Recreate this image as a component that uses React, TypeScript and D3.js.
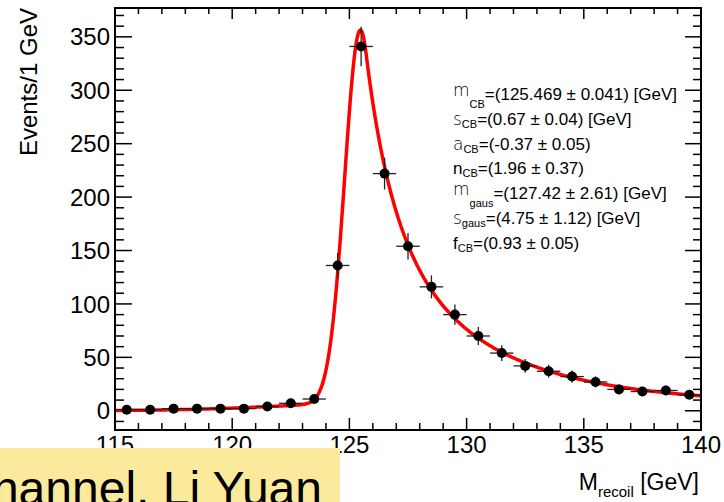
import React from "react";
import * as d3 from "d3";

// Recoil-mass histogram: 1 GeV bins, event counts
const binCenters = [
  115.5, 116.5, 117.5, 118.5, 119.5, 120.5, 121.5, 122.5, 123.5, 124.5, 125.5, 126.5, 127.5,
  128.5, 129.5, 130.5, 131.5, 132.5, 133.5, 134.5, 135.5, 136.5, 137.5, 138.5, 139.5,
];
const binCounts = [
  1, 1, 2, 2, 2, 2, 4, 7, 11, 136, 341, 222, 154, 116, 90, 70, 54, 42, 37, 32, 27, 20, 18, 19, 15,
];
const binWidth = 1;

const xTickValues = [115, 120, 125, 130, 135, 140];
const yTickValues = [0, 50, 100, 150, 200, 250, 300, 350];

// Fit result: Crystal Ball + Gaussian
const cbMean = 125.469;
const cbSigma = 0.67;
const cbAlpha = -0.37;
const cbN = 1.96;
const gausMean = 127.42;
const gausSigma = 4.75;
const cbFrac = 0.93;

const paramLines = [
  { sym: "m", light: true, sub: "CB", rest: "=(125.469 ± 0.041) [GeV]", symDy: -4, subDy: 8 },
  { sym: "s", light: true, sub: "CB", rest: "=(0.67 ± 0.04) [GeV]", symDy: 0, subDy: 3 },
  { sym: "a", light: true, sub: "CB", rest: "=(-0.37 ± 0.05)", symDy: 0, subDy: 3 },
  { sym: "n", light: false, sub: "CB", rest: "=(1.96 ± 0.37)", symDy: 0, subDy: 3 },
  { sym: "m", light: true, sub: "gaus", rest: "=(127.42 ± 2.61) [GeV]", symDy: -4, subDy: 8 },
  { sym: "s", light: true, sub: "gaus", rest: "=(4.75 ± 1.12) [GeV]", symDy: 0, subDy: 3 },
  { sym: "f", light: false, sub: "CB", rest: "=(0.93 ± 0.05)", symDy: 0, subDy: 3 },
];

const W = 724;
const H = 502;
const L = 115;
const R = 701;
const T = 8;
const B = 430;
const FONT = "'Liberation Sans', Arial, Helvetica, sans-serif";

function crystalBall(x: number): number {
  let t = (x - cbMean) / cbSigma;
  if (cbAlpha < 0) t = -t;
  const a = Math.abs(cbAlpha);
  if (t >= -a) return Math.exp(-0.5 * t * t);
  const A = Math.pow(cbN / a, cbN) * Math.exp(-0.5 * a * a);
  const Bc = cbN / a - a;
  return A * Math.pow(Bc - t, -cbN);
}

function gauss(x: number): number {
  const u = (x - gausMean) / gausSigma;
  return Math.exp(-0.5 * u * u);
}

function integrate(f: (x: number) => number, lo: number, hi: number, n = 20000): number {
  const h = (hi - lo) / n;
  let s = 0.5 * (f(lo) + f(hi));
  for (let i = 1; i < n; i++) s += f(lo + i * h);
  return s * h;
}

export default function App() {
  const x = d3.scaleLinear().domain([115, 140]).range([L, R]);
  const y = d3.scaleLinear().domain([-18, 377]).range([B, T]);

  const total = d3.sum(binCounts);
  const cbInt = integrate(crystalBall, 115, 140);
  const gInt = integrate(gauss, 115, 140);
  const model = (m: number) =>
    total * binWidth * (cbFrac * crystalBall(m) / cbInt + (1 - cbFrac) * gauss(m) / gInt);

  const curveX = d3.range(115, 140.0001, 0.02);
  const linePath = d3
    .line<number>()
    .x((d) => x(d))
    .y((d) => y(model(d)))(curveX) as string;

  const xMinor = d3.range(115, 141, 1);
  const yMinor = d3.range(-10, 377, 10);

  const points = binCenters.map((c, i) => ({ c, v: binCounts[i], e: Math.sqrt(binCounts[i]) }));

  return (
    <svg
      width={W}
      height={H}
      style={{ position: "absolute", left: 0, top: 0, background: "#fff" }}
      fontFamily={FONT}
    >
      <defs>
        <clipPath id="plotArea">
          <rect x={L} y={T} width={R - L} height={B - T} />
        </clipPath>
      </defs>
      <rect x={0} y={0} width={W} height={H} fill="#fff" />

      {/* frame ticks */}
      <g stroke="#000" strokeWidth={1.5}>
        {yMinor.map((v) => {
          const major = v % 50 === 0;
          return (
            <g key={"y" + v}>
              <line x1={L} x2={L + (major ? 17 : 9)} y1={y(v)} y2={y(v)} />
              <line x1={R} x2={R - (major ? 16 : 8)} y1={y(v)} y2={y(v)} />
            </g>
          );
        })}
        {xMinor.map((v) => {
          const major = v % 5 === 0;
          return (
            <g key={"x" + v}>
              <line x1={x(v)} x2={x(v)} y1={B} y2={B - (major ? 12 : 7)} />
              <line x1={x(v)} x2={x(v)} y1={T} y2={T + (major ? 11 : 6)} />
            </g>
          );
        })}
      </g>

      {/* fitted model */}
      <path
        d={linePath}
        fill="none"
        stroke="#ff0000"
        strokeWidth={3.5}
        strokeLinejoin="round"
        clipPath="url(#plotArea)"
      />

      {/* data with Poisson errors */}
      <g>
        {points.map((p) => (
          <g key={p.c}>
            <line
              x1={x(p.c - binWidth / 2)}
              x2={x(p.c + binWidth / 2)}
              y1={y(p.v)}
              y2={y(p.v)}
              stroke="#222"
              strokeWidth={1.3}
            />
            <line
              x1={x(p.c)}
              x2={x(p.c)}
              y1={y(p.v - p.e)}
              y2={y(p.v + p.e)}
              stroke="#222"
              strokeWidth={1.3}
            />
            <circle cx={x(p.c)} cy={y(p.v)} r={5} fill="#000" />
          </g>
        ))}
      </g>

      <rect x={L} y={T} width={R - L} height={B - T} fill="none" stroke="#000" strokeWidth={2} />

      {/* tick labels */}
      <g fontSize={24} fill="#000">
        {yTickValues.map((v) => (
          <text key={v} x={110} y={y(v) + 8.6} textAnchor="end">
            {v}
          </text>
        ))}
        {xTickValues.map((v) => (
          <text key={v} x={x(v)} y={452.5} textAnchor="middle">
            {v}
          </text>
        ))}
      </g>

      {/* axis titles */}
      <text
        transform="translate(37.3,8) rotate(-90)"
        textAnchor="end"
        fontSize={24}
        fill="#000"
      >
        Events/1 GeV
      </text>
      <text x={699} y={490} textAnchor="end" fontSize={23} fill="#000">
        M
        <tspan fontSize={15} dy={7}>
          recoil
        </tspan>
        <tspan dy={-7}> [GeV]</tspan>
      </text>

      {/* fit parameters */}
      <g fontSize={17} fill="#000">
        {paramLines.map((p, i) => (
          <text key={i} x={453} y={100 + i * 24.8}>
            <tspan
              dy={p.symDy}
              fontFamily={p.light ? "'DejaVu Sans', sans-serif" : FONT}
              fontWeight={p.light ? 200 : 400}
            >
              {p.sym}
            </tspan>
            <tspan fontSize={11} dy={p.subDy - p.symDy}>
              {p.sub}
            </tspan>
            <tspan dy={-p.subDy}>{p.rest}</tspan>
          </text>
        ))}
      </g>

      {/* caption banner */}
      <rect x={0} y={448} width={340} height={H - 448} fill="#fcea9c" />
      <text x={322} y={505} textAnchor="end" fontSize={48} fill="#000">
        channel, Li Yuan
      </text>
    </svg>
  );
}
